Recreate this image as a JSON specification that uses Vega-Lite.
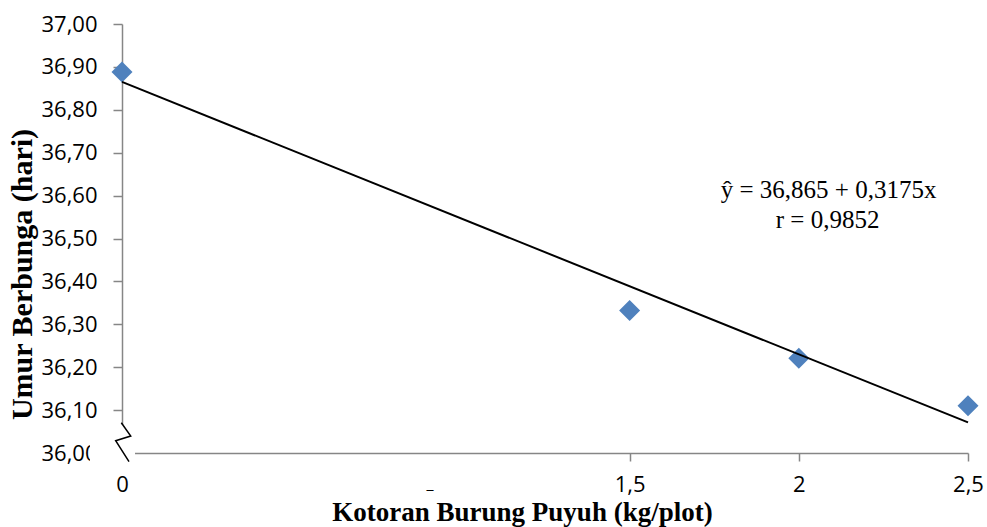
{
  "$schema": "https://vega.github.io/schema/vega-lite/v6.json",
  "width": 846,
  "height": 429,
  "autosize": "none",
  "padding": {"left": 122, "top": 24, "right": 19, "bottom": 74},
  "background": "white",
  "config": {"view": {"stroke": null}},
  "datasets": {
    "obs": [
      {"dosis": 0, "umur": 36.888},
      {"dosis": 1.5, "umur": 36.332},
      {"dosis": 2, "umur": 36.221},
      {"dosis": 2.5, "umur": 36.110}
    ],
    "fit": [
      {"dosis": 0, "umur": 36.865},
      {"dosis": 2.5, "umur": 36.07125}
    ],
    "notes": [
      {"dosis": 2.088, "umur": 36.595, "label": "ŷ = 36,865 + 0,3175x"},
      {"dosis": 2.085, "umur": 36.525, "label": "r = 0,9852"}
    ],
    "breakBox": [
      {"x1": -0.0948, "x2": 0.0385, "y1": 35.970, "y2": 36.0653}
    ],
    "breakLine": [
      {"i": 1, "dosis": -0.002, "umur": 36.0706},
      {"i": 2, "dosis": 0.0258, "umur": 36.0396},
      {"i": 3, "dosis": -0.0187, "umur": 36.0287},
      {"i": 4, "dosis": 0.0207, "umur": 35.9797}
    ],
    "stray": [
      {"dosis": 0.91, "umur": 35.915, "label": "_"}
    ]
  },
  "layer": [
    {
      "data": {"name": "obs"},
      "mark": {"type": "point", "shape": "diamond", "filled": true, "size": 441, "color": "#4F81BD", "opacity": 1},
      "encoding": {
        "x": {
          "field": "dosis", "type": "quantitative",
          "scale": {"domain": [0, 2.5], "nice": false, "zero": false},
          "axis": {
            "values": [0, 1.5, 2, 2.5],
            "labelExpr": "replace(toString(datum.value), '.', ',')",
            "grid": false,
            "domainColor": "#868686", "domainWidth": 1.5,
            "tickColor": "#868686", "tickWidth": 1.5, "tickSize": 8,
            "labelFont": "Open Sans", "labelFontSize": 22, "labelColor": "black",
            "labelPadding": 13, "labelFlush": false,
            "title": "Kotoran Burung Puyuh (kg/plot)",
            "titleFont": "Liberation Serif", "titleFontSize": 27, "titleFontWeight": "bold", "titleColor": "black",
            "titleX": 400, "titleY": 67, "titleAlign": "center", "titleBaseline": "alphabetic"
          }
        },
        "y": {
          "field": "umur", "type": "quantitative",
          "scale": {"domain": [36, 37], "nice": false, "zero": false},
          "axis": {
            "values": [36, 36.1, 36.2, 36.3, 36.4, 36.5, 36.6, 36.7, 36.8, 36.9, 37],
            "labelExpr": "replace(format(datum.value, '.2f'), '.', ',')",
            "grid": false,
            "domainColor": "#868686", "domainWidth": 1.5,
            "tickColor": "#868686", "tickWidth": 1.5, "tickSize": 9,
            "labelFont": "Open Sans", "labelFontSize": 22, "labelColor": "black",
            "labelPadding": 16, "labelFlush": false,
            "title": "Umur Berbunga (hari)",
            "titleFont": "Liberation Serif", "titleFontSize": 30, "titleFontWeight": "bold", "titleColor": "black",
            "titleAngle": -90, "titleX": -91, "titleY": 250, "titleAlign": "center", "titleBaseline": "alphabetic"
          }
        }
      }
    },
    {
      "data": {"name": "fit"},
      "mark": {"type": "line", "color": "black", "strokeWidth": 2},
      "encoding": {
        "x": {"field": "dosis", "type": "quantitative"},
        "y": {"field": "umur", "type": "quantitative"}
      }
    },
    {
      "data": {"name": "breakBox"},
      "mark": {"type": "rect", "color": "white", "opacity": 1},
      "encoding": {
        "x": {"field": "x1", "type": "quantitative"},
        "x2": {"field": "x2"},
        "y": {"field": "y1", "type": "quantitative"},
        "y2": {"field": "y2"}
      }
    },
    {
      "data": {"name": "breakLine"},
      "mark": {"type": "line", "color": "black", "strokeWidth": 1.5},
      "encoding": {
        "x": {"field": "dosis", "type": "quantitative"},
        "y": {"field": "umur", "type": "quantitative"},
        "order": {"field": "i"}
      }
    },
    {
      "data": {"name": "notes"},
      "mark": {"type": "text", "font": "Liberation Serif", "fontSize": 25, "color": "black", "align": "center", "baseline": "alphabetic"},
      "encoding": {
        "x": {"field": "dosis", "type": "quantitative"},
        "y": {"field": "umur", "type": "quantitative"},
        "text": {"field": "label"}
      }
    },
    {
      "data": {"name": "stray"},
      "mark": {"type": "text", "font": "Open Sans", "fontSize": 16, "color": "black", "align": "center", "baseline": "alphabetic"},
      "encoding": {
        "x": {"field": "dosis", "type": "quantitative"},
        "y": {"field": "umur", "type": "quantitative"},
        "text": {"field": "label"}
      }
    }
  ]
}
